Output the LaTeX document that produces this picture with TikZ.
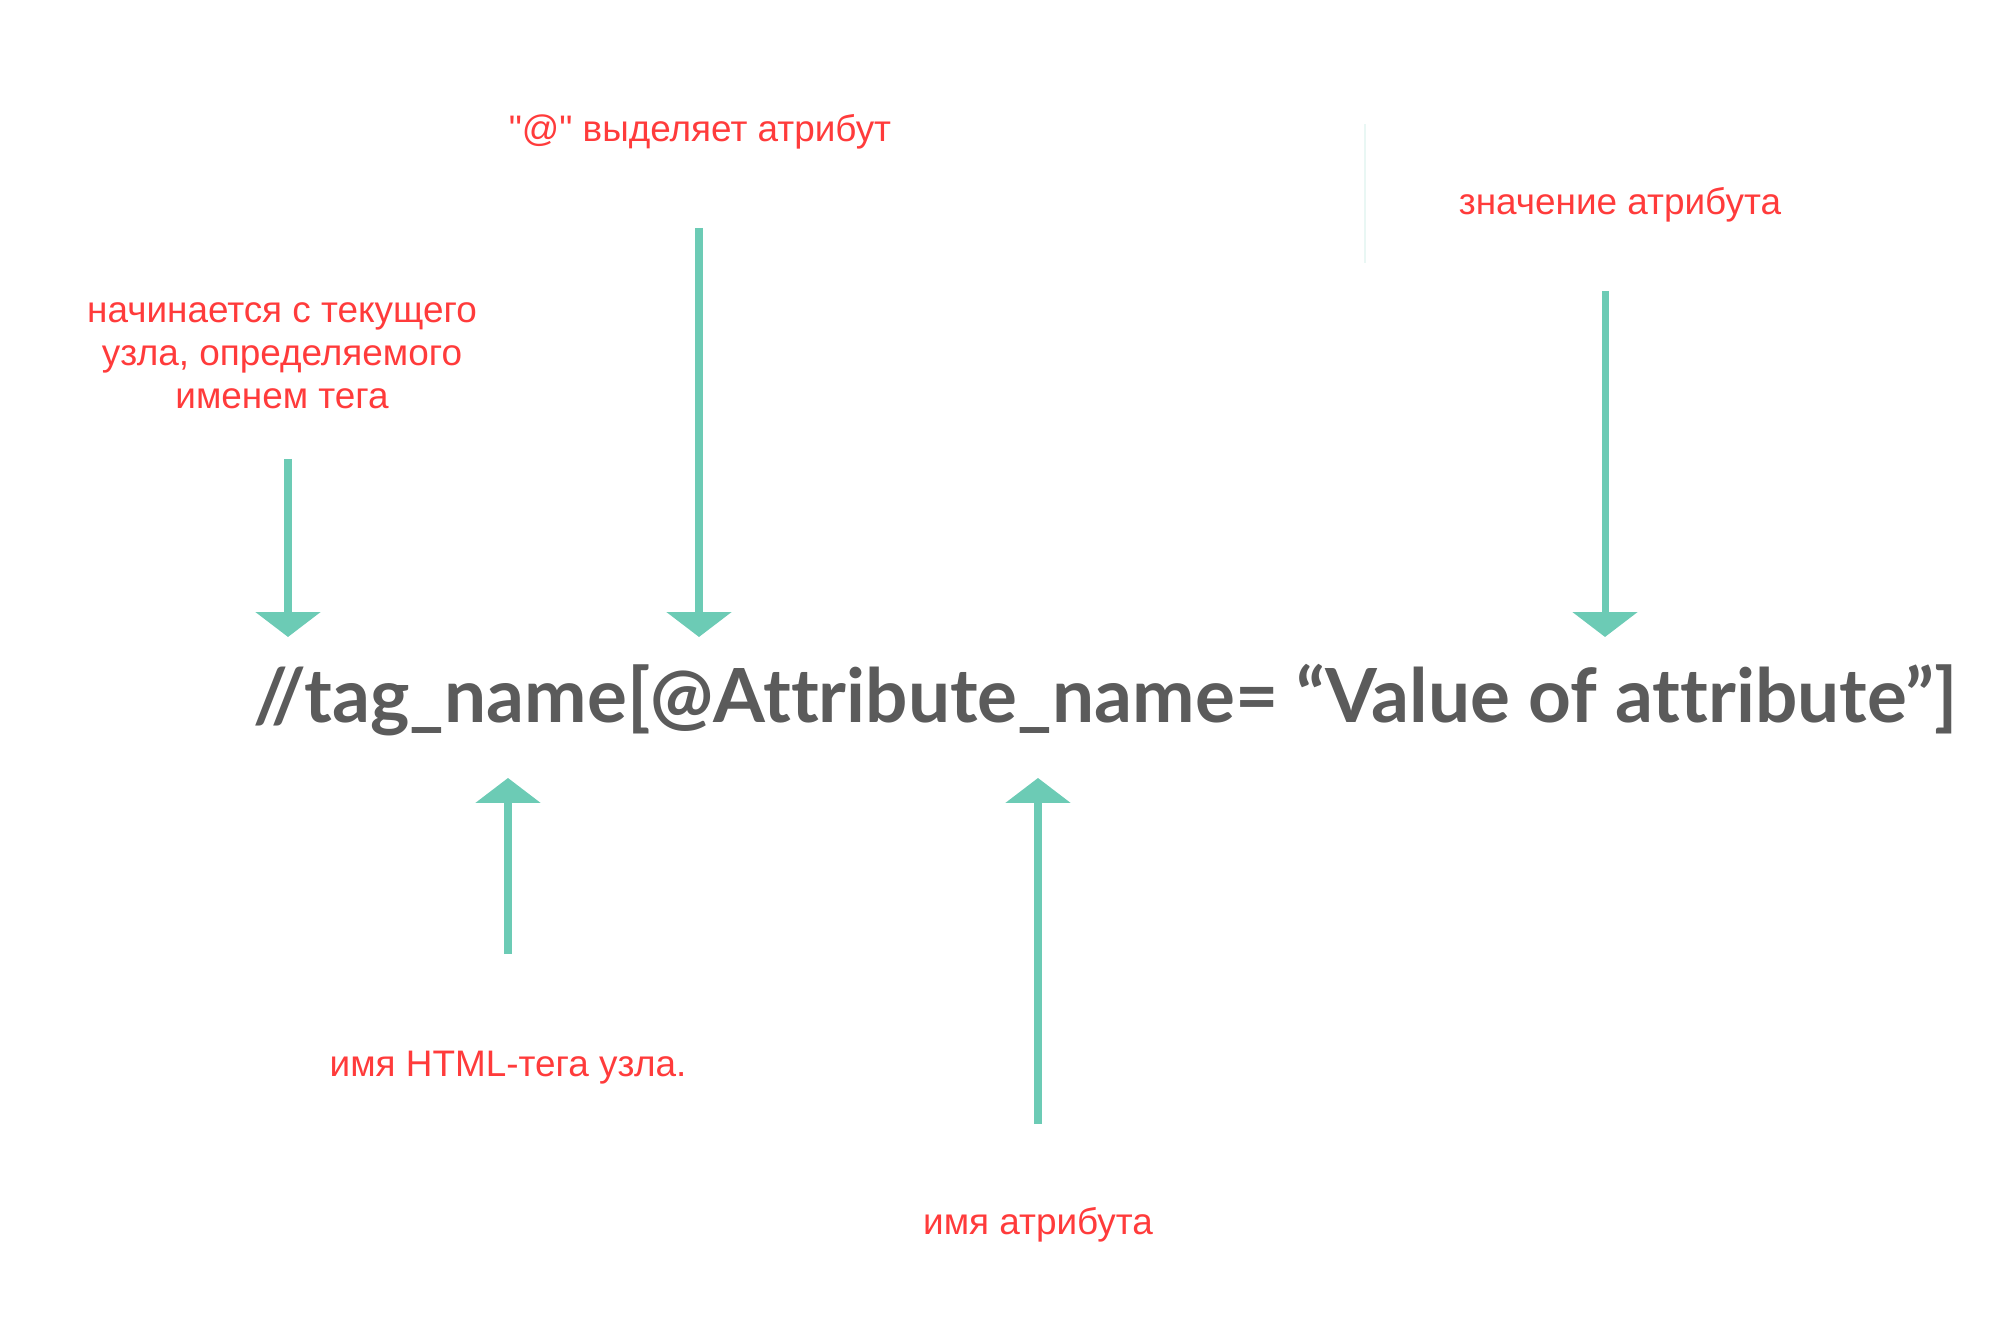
\documentclass[tikz,border=0pt]{standalone}
\usepackage{fontspec}
\setmainfont{Liberation Sans}
\newfontfamily\codefont{Lato}[Ligatures=CommonOff]
\usetikzlibrary{arrows.meta}
\definecolor{labelred}{HTML}{FF3B3B}
\definecolor{arrowteal}{HTML}{6CCBB5}
\definecolor{codegray}{HTML}{5B5B5B}
\begin{document}
\begin{tikzpicture}
    \tikzset{Label/.style={%
            text=labelred,%
            font=\fontsize{10.5}{12.3}\selectfont,%
            align=center,%
            inner sep=0pt,%
        },
        Pointer/.style={%
            draw=arrowteal,%
            line width=2pt,%
            -{Triangle[width=18.2pt,length=7.1pt]},%
        }}
    \useasboundingbox (0,0) rectangle (20,13.43);

    \node[anchor=base west,text=codegray,inner sep=0pt,
        font=\codefont\bfseries\fontsize{21.25}{24}\selectfont] (expr) at (2.53,6.20)
        {//tag\_name[@Attribute\_name= “Value of attribute”]};

    \node[Label] (at) at (7.00,12.11) {\textquotedbl@\textquotedbl\ выделяет атрибут};
    \node[Label] (val) at (16.20,11.38) {значение атрибута};
    \node[Label] (start) at (2.82,9.87) {начинается с текущего\\узла, определяемого\\именем тега};
    \node[Label] (tag) at (5.08,2.75) {имя HTML-тега узла.};
    \node[Label] (attr) at (10.38,1.18) {имя атрибута};

    \coordinate (s1) at (2.88,8.84);  \coordinate (e1) at (2.88,7.06);
    \coordinate (s2) at (6.99,11.15); \coordinate (e2) at (6.99,7.06);
    \coordinate (s3) at (16.05,10.52); \coordinate (e3) at (16.05,7.06);
    \coordinate (s4) at (5.08,3.89);  \coordinate (e4) at (5.08,5.65);
    \coordinate (s5) at (10.38,2.19); \coordinate (e5) at (10.38,5.65);
    \coordinate (m1) at (13.65,12.19); \coordinate (m2) at (13.65,10.80);

    \draw[Pointer] (s1) -- (e1);
    \draw[Pointer] (s2) -- (e2);
    \draw[Pointer] (s3) -- (e3);
    \draw[Pointer] (s4) -- (e4);
    \draw[Pointer] (s5) -- (e5);
    \draw[draw=arrowteal!15,line width=0.3pt] (m1) -- (m2);
\end{tikzpicture}
\end{document}
